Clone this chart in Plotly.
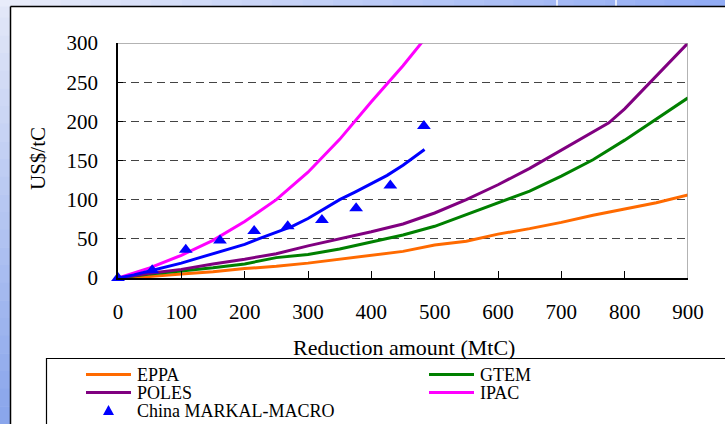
import plotly.graph_objects as go

# ---------------- data ----------------
x_eppa = [0, 50, 100, 150, 200, 250, 300, 350, 400, 450, 500, 550, 600, 650, 700, 750, 800, 850, 900]
y_eppa = [0, 2, 5, 8, 12, 15, 19, 24, 29, 34, 42, 47, 56, 63, 71, 80, 88, 96, 106]

x_gtem = [0, 50, 100, 150, 200, 250, 300, 350, 400, 450, 500, 550, 600, 650, 700, 750, 800, 850, 900]
y_gtem = [0, 5, 9, 13, 18, 26, 30, 37, 46, 55, 66, 81, 95, 111, 130, 151, 176, 203, 230]

x_poles = [0, 50, 100, 150, 200, 250, 300, 350, 400, 450, 500, 550, 600, 650, 700, 750, 775, 800, 850, 900]
y_poles = [0, 6, 11, 18, 24, 31, 41, 50, 59, 69, 83, 100, 119, 140, 163, 186, 198, 216, 258, 300]

x_ipac = [0, 50, 100, 150, 200, 250, 300, 350, 400, 450, 485]
y_ipac = [0, 13, 29, 48, 72, 100, 135, 177, 225, 271, 306]

x_blue = [0, 25, 50, 75, 100, 125, 150, 175, 200, 225, 250, 275, 300, 325, 350, 375, 400, 425, 450, 484]
y_blue = [0, 4, 9, 14, 19, 25, 31, 37, 43, 51, 58, 66, 76, 88, 100, 110, 120, 131, 144, 164]

x_markal = [0, 54, 107, 161, 215, 268, 322, 376, 430, 483]
y_markal = [0, 10, 36, 48, 60, 66, 74, 89, 118, 194]

x_ticks = [0, 100, 200, 300, 400, 500, 600, 700, 800, 900]
y_ticks = [0, 50, 100, 150, 200, 250, 300]

legend_names = ["EPPA", "GTEM", "POLES", "IPAC", "China MARKAL-MACRO"]

# ---------------- style ----------------
FONT = "Liberation Serif"
C_EPPA, C_GTEM, C_POLES, C_IPAC, C_BLUE = "#ff6a00", "#008000", "#800080", "#ff00ff", "#0000ff"

W_FIG, H_FIG = 725, 424
ML, MR, MT, MB = 118, 37, 43, 146
PW, PH = W_FIG - ML - MR, H_FIG - MT - MB


def fx(px):
    return (px - ML) / PW


def fy(py):
    return (H_FIG - MB - py) / PH


fig = go.Figure()

fig.add_trace(go.Scatter(x=x_eppa, y=y_eppa, mode="lines", name=legend_names[0],
                         line=dict(color=C_EPPA, width=3), showlegend=False))
fig.add_trace(go.Scatter(x=x_gtem, y=y_gtem, mode="lines", name=legend_names[1],
                         line=dict(color=C_GTEM, width=3), showlegend=False))
fig.add_trace(go.Scatter(x=x_poles, y=y_poles, mode="lines", name=legend_names[2],
                         line=dict(color=C_POLES, width=3), showlegend=False))
fig.add_trace(go.Scatter(x=x_ipac, y=y_ipac, mode="lines", name=legend_names[3],
                         line=dict(color=C_IPAC, width=3), showlegend=False))
fig.add_trace(go.Scatter(x=x_blue, y=y_blue, mode="lines", name="China MARKAL-MACRO (line)",
                         line=dict(color=C_BLUE, width=3), showlegend=False))
fig.add_trace(go.Scatter(x=x_markal, y=y_markal, mode="markers", name=legend_names[4],
                         marker=dict(symbol="triangle-up", size=12, color=C_BLUE),
                         showlegend=False, cliponaxis=False))

shapes = []
# background gradient strips
N = 24
for i in range(N):
    t = i / (N - 1)
    # left strip: light at top, blue at bottom
    r = int(226 + (138 - 226) * t); g = int(231 + (166 - 231) * t); b = int(248 + (236 - 248) * t)
    y0 = i * H_FIG / N; y1 = (i + 1) * H_FIG / N + 0.5
    shapes.append(dict(type="rect", xref="paper", yref="paper", x0=fx(0), x1=fx(10.5),
                       y0=fy(y0), y1=fy(y1), fillcolor=f"rgb({r},{g},{b})", line=dict(width=0), layer="below"))
    # top strip: light at left, blue at right
    r = int(232 + (146 - 232) * t); g = int(236 + (172 - 236) * t); b = int(250 + (244 - 250) * t)
    x0 = i * W_FIG / N; x1 = (i + 1) * W_FIG / N + 0.5
    shapes.append(dict(type="rect", xref="paper", yref="paper", x0=fx(x0), x1=fx(x1),
                       y0=fy(0), y1=fy(6.5), fillcolor=f"rgb({r},{g},{b})", line=dict(width=0), layer="below"))
for vx in (557, 616):
    shapes.append(dict(type="line", xref="paper", yref="paper", x0=fx(vx), x1=fx(vx), y0=fy(0), y1=fy(6),
                       line=dict(color="white", width=1.5), layer="below"))
# chart frame (black left and top border)
shapes.append(dict(type="line", xref="paper", yref="paper", x0=fx(10.5), x1=fx(10.5), y0=fy(6.5), y1=fy(H_FIG + 5),
                   line=dict(color="black", width=1.5), layer="below"))
shapes.append(dict(type="line", xref="paper", yref="paper", x0=fx(10.5), x1=fx(W_FIG + 5), y0=fy(6.5), y1=fy(6.5),
                   line=dict(color="black", width=1.5), layer="below"))
# plot-area top/right border (gray)
shapes.append(dict(type="line", xref="x", yref="y", x0=0, x1=900, y0=300, y1=300,
                   line=dict(color="#9a9a9a", width=1.5)))
shapes.append(dict(type="line", xref="x", yref="y", x0=900, x1=900, y0=0, y1=300,
                   line=dict(color="#9a9a9a", width=1.5)))
# legend box
shapes.append(dict(type="rect", xref="paper", yref="paper", x0=fx(46.5), x1=fx(W_FIG + 10), y0=fy(358.5), y1=fy(H_FIG + 10),
                   line=dict(color="black", width=1.2), fillcolor="white"))

annotations = []
leg = [
    (legend_names[0], C_EPPA, 86, 374.5, "line"),
    (legend_names[1], C_GTEM, 429, 374.5, "line"),
    (legend_names[2], C_POLES, 86, 392.5, "line"),
    (legend_names[3], C_IPAC, 429, 392.5, "line"),
    (legend_names[4], C_BLUE, 86, 410.5, "marker"),
]
for name, col, lx, ly, kind in leg:
    if kind == "line":
        shapes.append(dict(type="line", xref="paper", yref="paper", x0=fx(lx), x1=fx(lx + 45), y0=fy(ly), y1=fy(ly),
                           line=dict(color=col, width=3)))
    else:
        cx, cy = 108.5, ly
        path = f"M {fx(cx - 5.5)} {fy(cy + 4.5)} L {fx(cx + 5.5)} {fy(cy + 4.5)} L {fx(cx)} {fy(cy - 5.5)} Z"
        shapes.append(dict(type="path", xref="paper", yref="paper", path=path, fillcolor=col, line=dict(width=0)))
    annotations.append(dict(text=name, xref="paper", yref="paper", x=fx(lx + 48.5), y=fy(ly),
                            xanchor="left", yanchor="middle", showarrow=False,
                            font=dict(family=FONT, size=18, color="black")))

# axis titles
annotations.append(dict(text="US$/tC", xref="paper", yref="paper", x=fx(37.5), y=fy(158.5), textangle=-90,
                        xanchor="center", yanchor="middle", showarrow=False,
                        font=dict(family=FONT, size=21, color="black")))
annotations.append(dict(text="Reduction amount (MtC)", xref="paper", yref="paper", x=fx(404), y=fy(347),
                        xanchor="center", yanchor="middle", showarrow=False,
                        font=dict(family=FONT, size=22, color="black")))

fig.update_layout(
    width=W_FIG, height=H_FIG,
    margin=dict(l=ML, r=MR, t=MT, b=MB, pad=0),
    paper_bgcolor="white", plot_bgcolor="white",
    shapes=shapes, annotations=annotations,
    showlegend=False,
    font=dict(family=FONT, color="black"),
)
fig.update_xaxes(range=[0, 900], tickvals=x_ticks, ticktext=[str(v) for v in x_ticks],
                 showgrid=False, zeroline=False, showline=True, linecolor="black", linewidth=1.5,
                 ticks="inside", ticklen=7, tickwidth=1.2, tickcolor="black",
                 tickfont=dict(family=FONT, size=21, color="black"), ticklabelstandoff=14)
fig.update_yaxes(range=[0, 300], tickvals=y_ticks, ticktext=[str(v) for v in y_ticks],
                 showgrid=True, gridcolor="#444444", gridwidth=1, griddash="8px,5px",
                 zeroline=False, showline=True, linecolor="black", linewidth=1.5,
                 ticks="inside", ticklen=5, tickwidth=1.2, tickcolor="black",
                 tickfont=dict(family=FONT, size=21, color="black"), ticklabelstandoff=14)

fig.write_html("out.html")
